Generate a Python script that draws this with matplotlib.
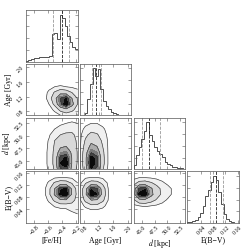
import numpy as np
import matplotlib
matplotlib.use('Agg')
import matplotlib.pyplot as plt

plt.rcParams['font.family'] = ['Liberation Serif', 'DejaVu Serif']
plt.rcParams['mathtext.fontset'] = 'stix'

# Parameter names, plot ranges and ticks
labels = ['[Fe/H]', 'Age [Gyr]', r'$d$ [kpc]', 'E(B\u2212V)']
ranges = [(-0.92, -0.18), (0.68, 2.10), (43.3, 53.6), (-0.005, 0.165)]
ticks = [[-0.8, -0.6, -0.4, -0.2],
         [0.8, 1.2, 1.6, 2.0],
         [45.0, 47.5, 50.0, 52.5],
         [0.04, 0.08, 0.12, 0.16]]
tick_labels = [['\u22120.8', '\u22120.6', '\u22120.4', '\u22120.2'],
               ['0.8', '1.2', '1.6', '2.0'],
               ['45.0', '47.5', '50.0', '52.5'],
               ['0.04', '0.08', '0.12', '0.16']]

# 1D marginal histograms (20 bins over the plot range, relative counts)
feh_hist = [0.01, 0.03, 0.05, 0.07, 0.08, 0.09, 0.09, 0.09, 0.10, 0.12,
            0.55, 0.57, 0.46, 0.95, 0.88, 0.72, 0.52, 0.40, 0.30, 0.25]
age_hist = [0.00, 0.01, 0.06, 0.35, 0.65, 0.97, 0.82, 0.96, 0.55, 0.30,
            0.20, 0.14, 0.08, 0.05, 0.03, 0.02, 0.015, 0.01, 0.01, 0.005]
dist_hist = [0.08, 0.30, 0.45, 0.62, 0.78, 0.97, 0.70, 0.58, 0.47, 0.38,
             0.32, 0.25, 0.16, 0.11, 0.08, 0.05, 0.04, 0.03, 0.02, 0.015]
ebv_hist = [0.02, 0.03, 0.05, 0.07, 0.12, 0.20, 0.35, 0.55, 0.68, 0.85,
            0.97, 0.88, 0.65, 0.40, 0.18, 0.08, 0.04, 0.02, 0.01, 0.01]
hists = [feh_hist, age_hist, dist_hist, ebv_hist]

# 16th / 50th / 84th percentiles
feh_q = [-0.53, -0.40, -0.30]
age_q = [1.02, 1.14, 1.26]
dist_q = [45.0, 46.3, 48.6]
ebv_q = [0.069, 0.090, 0.112]
quantiles = [feh_q, age_q, dist_q, ebv_q]

# 2D densities (10x10, rows listed from top of panel to bottom)
age_feh = [
    [0, 0, 0, 0, 0, 0, 0, 0, 0, 0],
    [0, 0, 0, 0, 0, 0, 0, 0, 0, 0],
    [0, 0, 0, 0, 0, 0, 0, 0, 0, 0],
    [0, 0, 0, 0, 0, 1, 2, 2, 1, 1],
    [0, 0, 0, 0, 3, 6, 7, 6, 4, 3],
    [0, 0, 0, 1, 8, 22, 35, 30, 20, 10],
    [0, 0, 0, 1, 10, 35, 75, 90, 45, 18],
    [0, 0, 0, 0, 6, 25, 70, 100, 55, 20],
    [0, 0, 0, 0, 2, 8, 25, 35, 25, 12],
    [0, 0, 0, 0, 0, 2, 5, 8, 8, 5]]
dist_feh = [
    [0, 0, 0, 0, 0, 0, 1, 2, 3, 3],
    [0, 0, 0, 0, 0, 2, 4, 6, 7, 6],
    [0, 0, 0, 0, 1, 6, 10, 12, 14, 10],
    [0, 0, 0, 0, 4, 14, 20, 24, 24, 14],
    [0, 0, 0, 0, 7, 20, 30, 35, 30, 16],
    [0, 0, 0, 0, 8, 22, 40, 45, 34, 17],
    [0, 0, 0, 0, 9, 24, 58, 65, 40, 18],
    [0, 0, 0, 0, 9, 25, 82, 90, 44, 18],
    [0, 0, 0, 0, 9, 25, 88, 100, 44, 17],
    [0, 0, 0, 0, 8, 22, 72, 80, 38, 14]]
dist_age = [
    [0, 0, 1, 1, 0, 0, 0, 0, 0, 0],
    [0, 3, 6, 6, 3, 0, 0, 0, 0, 0],
    [1, 9, 14, 13, 8, 2, 0, 0, 0, 0],
    [2, 16, 25, 22, 12, 3, 0, 0, 0, 0],
    [2, 22, 38, 32, 16, 4, 0, 0, 0, 0],
    [2, 28, 52, 45, 20, 4, 0, 0, 0, 0],
    [3, 34, 72, 62, 24, 4, 0, 0, 0, 0],
    [3, 38, 95, 80, 26, 4, 0, 0, 0, 0],
    [3, 38, 100, 82, 26, 4, 0, 0, 0, 0],
    [2, 32, 85, 70, 22, 3, 0, 0, 0, 0]]
ebv_feh = [
    [0, 0, 0, 0, 0, 0, 0, 0, 0, 0],
    [0, 0, 0, 0, 1, 3, 4, 4, 3, 2],
    [0, 0, 0, 0, 8, 22, 30, 28, 18, 6],
    [0, 0, 0, 1, 14, 45, 85, 90, 40, 10],
    [0, 0, 0, 1, 14, 48, 92, 100, 42, 12],
    [0, 0, 0, 0, 8, 24, 40, 42, 28, 12],
    [0, 0, 0, 0, 2, 7, 9, 9, 12, 10],
    [0, 0, 0, 0, 0, 1, 2, 3, 6, 8],
    [0, 0, 0, 0, 0, 0, 0, 1, 2, 3],
    [0, 0, 0, 0, 0, 0, 0, 0, 0, 1]]
ebv_age = [
    [0, 0, 0, 0, 0, 0, 0, 0, 0, 0],
    [0, 3, 5, 5, 3, 0, 0, 0, 0, 0],
    [2, 18, 28, 26, 16, 3, 0, 0, 0, 0],
    [4, 35, 85, 78, 30, 5, 0, 0, 0, 0],
    [4, 38, 100, 88, 34, 6, 0, 0, 0, 0],
    [3, 25, 45, 42, 24, 5, 0, 0, 0, 0],
    [1, 8, 14, 14, 9, 2, 0, 0, 0, 0],
    [0, 1, 2, 2, 1, 0, 0, 0, 0, 0],
    [0, 0, 0, 0, 0, 0, 0, 0, 0, 0],
    [0, 0, 0, 0, 0, 0, 0, 0, 0, 0]]
ebv_dist = [
    [0, 0, 0, 0, 0, 0, 0, 0, 0, 0],
    [2, 4, 4, 3, 2, 1, 0, 0, 0, 0],
    [12, 26, 28, 22, 14, 8, 3, 0, 0, 0],
    [30, 80, 85, 50, 28, 15, 10, 3, 0, 0],
    [32, 92, 100, 55, 30, 16, 10, 3, 0, 0],
    [16, 35, 38, 28, 18, 10, 4, 0, 0, 0],
    [3, 6, 7, 6, 4, 2, 1, 0, 0, 0],
    [0, 0, 0, 0, 0, 0, 0, 0, 0, 0],
    [0, 0, 0, 0, 0, 0, 0, 0, 0, 0],
    [0, 0, 0, 0, 0, 0, 0, 0, 0, 0]]
densities = {(1, 0): age_feh, (2, 0): dist_feh, (2, 1): dist_age,
             (3, 0): ebv_feh, (3, 1): ebv_age, (3, 2): ebv_dist}

fill_levels = [6, 20, 45, 62, 75, 88, 101]
fill_colors = ['#f0f0f0', '#d8d8d8', '#ababab', '#7a7a7a', '#444444', '#0a0a0a']
line_levels = [6, 20, 45, 75]

fig, axes = plt.subplots(4, 4, figsize=(2.49, 2.49), dpi=100)
plt.subplots_adjust(left=0.104, right=0.96, bottom=0.104, top=0.96,
                    wspace=0.04, hspace=0.04)

for i in range(4):
    for j in range(4):
        ax = axes[i, j]
        if j > i:
            ax.set_visible(False)
            continue
        for sp in ax.spines.values():
            sp.set_linewidth(0.5)
            sp.set_color('#555555')
        ax.tick_params(direction='in', length=2, width=0.4, color='#555555',
                       top=True, right=True, labelsize=4.2, pad=1)
        ax.set_xlim(ranges[j])
        ax.set_xticks(ticks[j])
        if i == j:
            edges = np.linspace(ranges[i][0], ranges[i][1], len(hists[i]) + 1)
            ax.stairs(hists[i], edges, color='#333333', lw=0.6)
            ax.set_ylim(0, 1.1 * max(hists[i]))
            ax.set_yticks(np.linspace(0, max(hists[i]), 5)[1:])
            ax.set_yticklabels([])
            for k, q in enumerate(quantiles[i]):
                ax.axvline(q, ls='--', lw=0.6,
                           color='#222222' if k == 1 else '#999999')
        else:
            grid = np.flipud(np.array(densities[(i, j)], dtype=float))
            xs = np.linspace(ranges[j][0], ranges[j][1], grid.shape[1])
            ys = np.linspace(ranges[i][0], ranges[i][1], grid.shape[0])
            ax.contourf(xs, ys, grid, levels=fill_levels, colors=fill_colors)
            ax.contour(xs, ys, grid, levels=line_levels, colors='#333333',
                       linewidths=0.45)
            ax.set_ylim(ranges[i])
            ax.set_yticks(ticks[i])
            if j == 0:
                ax.set_yticklabels(tick_labels[i], rotation=45)
                ax.set_ylabel(labels[i], fontsize=5.6)
                ax.yaxis.set_label_coords(-0.25, 0.5)
            else:
                ax.set_yticklabels([])
        if i == 3:
            ax.set_xticklabels(tick_labels[j], rotation=45)
            ax.set_xlabel(labels[j], fontsize=5.6)
            ax.xaxis.set_label_coords(0.5, -0.26)
        else:
            ax.set_xticklabels([])

fig.savefig('out.png', dpi=100)
